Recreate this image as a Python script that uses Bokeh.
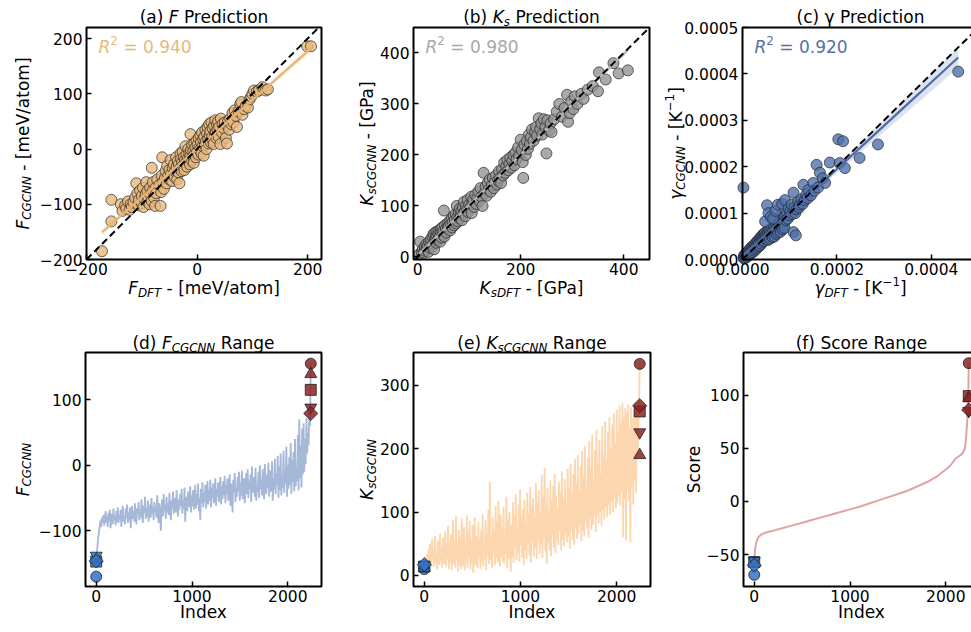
import glob
import math
import numpy as np
from bokeh.plotting import figure
from bokeh.models import Label, FixedTicker, Range1d
from bokeh.layouts import row, column
from bokeh.embed import file_html
from bokeh.resources import INLINE

# ---------------- data ----------------
# (a) F: DFT vs CGCNN  [meV/atom]
F_pairs = [
    (-172, -185), (-155, -131), (-155, -92), (-138, -100), (-135, -112), (-130, -102), (-128, -108),
    (-125, -95), (-122, -110), (-120, -100), (-118, -105), (-115, -97),
    (-112, -88), (-110, -62), (-108, -80), (-106, -102), (-105, -92), (-103, -75), (-100, -98),
    (-100, -85), (-98, -70), (-97, -105), (-95, -90), (-93, -82), (-92, -60), (-90, -95), (-90, -76),
    (-88, -88), (-86, -100), (-85, -70), (-84, -82), (-82, -94), (-82, -34), (-80, -75), (-80, -60),
    (-78, -88), (-76, -103), (-75, -70), (-74, -80), (-72, -55), (-68, -65), (-66, -103), (-65, -78),
    (-64, -48), (-63, -15), (-62, -60), (-60, -72), (-58, -52), (-57, -40), (-55, -62), (-54, -30),
    (-52, -48), (-50, -55), (-50, -38), (-48, -20), (-47, -45), (-45, -58), (-44, -35), (-42, -28),
    (-41, -50), (-40, -40), (-38, -15), (-37, -32), (-36, -55), (-35, -22), (-34, -42), (-33, -28),
    (-32, -62), (-31, -35), (-30, -8),
    (-29, -18), (-28, -40), (-27, -25), (-26, -5), (-25, -30), (-24, -15), (-23, -38), (-22, -20),
    (-21, 5), (-20, -25), (-19, -10), (-18, -32), (-17, -18), (-16, 0), (-15, -22), (-14, -8),
    (-13, -28), (-12, 27), (-12, -12), (-11, -2), (-10, -20), (-9, 8), (-8, -14), (-7, -4), (-6, -25),
    (-5, 10), (-4, -8), (-3, 2), (-2, -15), (-1, 15), (0, -5), (1, 8),
    (2, -10), (3, 20), (4, 2), (5, -2), (6, 25), (7, 12), (8, -8), (9, 30), (10, 5), (11, 18),
    (12, -12), (13, 22), (14, 8), (15, 35), (16, 14), (17, 0), (18, 28), (19, 40), (20, 18), (21, 10),
    (22, 45), (23, 25), (24, 32), (25, 12), (26, 48), (27, 22), (28, 38), (29, 15), (30, 9), (31, 42),
    (32, 28), (33, 52), (34, 30), (35, 20), (36, 44), (37, 35), (38, 50), (39, 22), (40, 40), (42, 9),
    (43, 55), (45, 30), (46, 45), (48, 38), (50, 48), (52, 20), (54, 10), (55, 42),
    (56, 50), (58, 35), (60, 55), (62, 45), (64, 65), (66, 48), (68, 70), (70, 60), (72, 40), (75, 68),
    (78, 81), (80, 85), (82, 62), (85, 72), (88, 78), (92, 75), (95, 90), (98, 95), (100, 100),
    (103, 106), (108, 104), (112, 106), (118, 112), (124, 106), (128, 108),
    (199, 186), (206, 186),
]
F_DFT = [p[0] for p in F_pairs]
F_CGCNN = [p[1] for p in F_pairs]

# (b) Ks: DFT vs CGCNN [GPa]
K_pairs = [
    (3, 5), (5, 30), (8, 10), (10, 15), (12, 8), (14, 20), (15, 12), (17, 25), (18, 15), (20, 22),
    (21, 10), (22, 30), (24, 18), (25, 28), (26, 35), (28, 20), (29, 40), (30, 26), (31, 45), (32, 15),
    (33, 32), (34, 48), (35, 38), (36, 28), (37, 42), (38, 50), (39, 33), (40, 45), (41, 36), (42, 52),
    (43, 40), (44, 30), (45, 55), (46, 47), (47, 38), (48, 58), (49, 44), (50, 50), (51, 91), (52, 40),
    (53, 62), (55, 55), (56, 48), (58, 66), (59, 56), (60, 60), (62, 70), (63, 52), (64, 64), (66, 75),
    (67, 58), (68, 68), (70, 80), (71, 62), (72, 72), (74, 85), (75, 66), (76, 100), (77, 78), (78, 70),
    (80, 88), (81, 76), (82, 95), (84, 82), (85, 90), (86, 72), (88, 98), (89, 85), (90, 108), (92, 90),
    (93, 80), (94, 100), (96, 92), (97, 112), (98, 88), (100, 102), (102, 96), (104, 118), (105, 86),
    (106, 104), (108, 112), (110, 98),
    (112, 122), (114, 104), (116, 115), (118, 128), (120, 110), (122, 135), (124, 118), (126, 100),
    (128, 165), (130, 125), (132, 138), (134, 120), (136, 145), (138, 132), (140, 152), (142, 128),
    (144, 140), (146, 155), (148, 135), (150, 148), (152, 160), (154, 142), (156, 150), (158, 168),
    (160, 155), (162, 145), (164, 172), (166, 160), (168, 185), (170, 165),
    (172, 178), (174, 190), (176, 170), (178, 182), (180, 195), (182, 175), (184, 188), (186, 200),
    (188, 180), (190, 205), (192, 192), (195, 215), (197, 198), (200, 230), (202, 210), (204, 186),
    (205, 155), (207, 220), (210, 200), (212, 228), (214, 212), (216, 240), (218, 222), (220, 235),
    (222, 250), (225, 228), (228, 245), (230, 255), (232, 238), (235, 272), (238, 250), (240, 262),
    (242, 240), (245, 270), (248, 255), (250, 203), (252, 268), (255, 248), (258, 262), (260, 245),
    (265, 270), (270, 285), (275, 300), (280, 275), (285, 292), (290, 318), (292, 265), (295, 282),
    (298, 305), (302, 290), (305, 315), (310, 300), (318, 320), (322, 310), (330, 328), (340, 335),
    (350, 325), (352, 362), (365, 348), (380, 380), (390, 360), (408, 366),
]
K_DFT = [p[0] for p in K_pairs]
K_CGCNN = [p[1] for p in K_pairs]

# (c) gamma: DFT vs CGCNN, listed in 1e-6 K^-1
G_pairs = [
    (2, 155), (2, 3), (3, 8), (4, 2), (5, 6), (6, 12), (7, 4), (8, 10), (9, 15), (10, 6), (11, 12),
    (12, 18), (13, 9), (14, 15), (15, 22), (16, 11), (17, 18), (18, 25), (19, 14), (20, 20), (21, 28),
    (22, 16), (23, 24), (24, 30), (25, 19), (26, 27), (27, 34), (28, 22), (29, 30), (30, 38), (31, 25),
    (32, 33), (33, 40), (34, 28), (35, 36), (36, 45), (37, 30), (38, 40), (39, 48), (40, 34), (41, 44),
    (42, 52), (43, 38), (44, 47), (45, 55), (46, 40), (47, 50), (48, 58), (49, 44), (50, 54), (52, 48),
    (53, 60), (54, 42), (55, 57), (56, 50), (57, 64), (58, 45), (59, 60), (60, 52), (62, 68), (63, 55),
    (64, 48), (65, 62), (66, 72), (67, 58), (68, 50), (69, 66), (70, 60), (71, 78), (72, 55), (73, 68),
    (74, 62), (75, 80), (76, 58), (77, 72), (78, 92), (79, 66), (80, 76), (81, 60), (82, 85), (83, 70),
    (84, 78), (85, 65), (86, 90), (87, 75), (88, 82), (89, 68), (90, 95), (92, 85),
    (48, 82), (52, 117), (55, 100), (60, 92), (65, 88), (70, 105), (75, 118), (84, 120), (90, 128),
    (94, 100), (96, 88), (98, 110), (100, 95), (102, 105), (104, 118), (106, 98), (108, 59), (108, 144),
    (110, 112), (112, 100), (113, 52), (115, 108), (118, 125), (120, 112), (122, 118), (125, 130),
    (128, 120), (129, 161), (132, 128), (135, 140), (138, 132), (140, 150), (145, 138), (150, 165),
    (152, 148), (157, 204), (160, 155), (164, 187), (170, 175), (175, 165), (185, 209), (203, 259),
    (206, 208), (213, 255), (217, 197), (248, 219), (287, 248), (457, 405),
]
G_UNIT = 1e-6
G_DFT = [p[0] * G_UNIT for p in G_pairs]
G_CGCNN = [p[1] * G_UNIT for p in G_pairs]

R2_values = ["0.940", "0.980", "0.920"]

# (d)-(f) sorted range lines (evenly spaced samples over the material index)
N_MATERIALS = 2241
F_line = [
    -140, -132, -120, -108, -100, -92, -84, -94, -80, -88,
    -76, -92, -82, -70, -88, -78, -94, -72, -85, -68,
    -96, -80, -74, -90, -66, -84, -78, -92, -70, -86,
    -64, -88, -76, -82, -68, -94, -74, -62, -86, -78,
    -90, -66, -80, -60, -88, -72, -84, -64, -96, -76,
    -62, -82, -70, -86, -58, -78, -90, -66, -74, -56,
    -84, -68, -80, -52, -76, -88, -62, -72, -48, -82,
    -66, -78, -54, -86, -70, -60, -80, -50, -74, -64,
    -84, -56, -72, -62, -80, -46, -70, -88, -58, -76,
    -100, -64, -52, -78, -44, -70, -60, -82, -48, -72,
    -58, -76, -42, -68, -84, -54, -66, -40, -74, -60,
    -50, -72, -38, -64, -78, -52, -68, -44, -62, -36,
    -74, -54, -66, -34, -86, -60, -48, -70, -40, -64,
    -56, -32, -72, -46, -62, -38, -68, -52, -30, -66,
    -44, -60, -28, -70, -50, -84, -36, -58, -26, -64,
    -42, -56, -30, -66, -46, -24, -60, -38, -54, -22,
    -64, -34, -50, -28, -58, -42, -20, -62, -36, -48,
    -26, -56, -40, -18, -60, -32, -52, -24, -46, -16,
    -58, -30, -44, -20, -54, -36, -14, -62, -28, -50,
    -72, -22, -42, -12, -56, -34, -48, -18, -40, -10,
    -54, -26, -46, -8, -52, -30, -20, -58, -38, -12,
    -44, -6, -50, -24, -36, -14, -56, -2, -42, -28,
    -18, -48, -4, -54, -32, -40, -10, -50, 0, -36,
    -22, -46, -6, -38, -52, 2, -30, -44, -14, -34,
    4, -48, -26, -8, -40, 6, -54, -20, -36, 10,
    -44, -12, -30, 14, -50, -2, -38, 18, -46, -16,
    -34, 22, -42, -6, -28, 28, -48, 0, -36, 12,
    -30, 34, -44, 8, -26, 20, -40, 40, -32, -4,
    -24, 46, -38, 70, -20, 30, -34, 56, -14, 64,
    -10, 40, 2, 72, 18, 50, 30, 80, 60, 155,
]
K_line = [
    15, 20, 28, 18, 35, 24, 42, 16, 50, 22,
    12, 58, 26, 40, 14, 62, 20, 34, 10, 55,
    30, 16, 66, 22, 44, 12, 60, 28, 18, 70,
    14, 48, 26, 78, 10, 52, 20, 64, 8, 40,
    88, 18, 56, 12, 94, 24, 46, 6, 72, 16,
    60, 10, 90, 30, 14, 76, 8, 50, 22, 95,
    12, 66, 28, 86, 10, 54, 18, 80, 4, 44,
    92, 16, 62, 24, 12, 84, 30, 56, 10, 72,
    20, 96, 14, 50, 26, 88, 8, 66, 32, 104,
    18, 148, 24, 60, 12, 92, 36, 70, 16, 110,
    28, 84, 20, 118, 40, 14, 96, 30, 74, 22,
    108, 18, 64, 34, 124, 12, 88, 26, 100, 42,
    6, 80, 30, 116, 20, 94, 44, 128, 24, 70,
    36, 112, 22, 136, 48, 90, 28, 104, 16, 120,
    40, 82, 26, 130, 50, 98, 32, 140, 20, 108,
    54, 122, 30, 92, 44, 146, 26, 114, 58, 134,
    34, 100, 48, 158, 28, 124, 60, 170, 38, 110,
    18, 138, 52, 96, 40, 150, 30, 118, 64, 142,
    44, 160, 36, 126, 58, 104, 48, 148, 70, 132,
    40, 164, 56, 120, 46, 152, 66, 110, 52, 168,
    62, 138, 42, 176, 72, 128, 56, 160, 48, 184,
    76, 146, 58, 190, 66, 134, 80, 172, 54, 196,
    70, 156, 62, 204, 86, 140, 74, 186, 60, 212,
    90, 168, 72, 222, 80, 150, 94, 198, 68, 230,
    96, 176, 82, 214, 100, 160, 78, 236, 104, 190,
    88, 244, 108, 182, 92, 226, 112, 250, 96, 200,
    118, 238, 100, 256, 124, 210, 106, 262, 114, 228,
    126, 268, 110, 240, 132, 272, 60, 250, 120, 264,
    55, 258, 136, 270, 118, 232, 52, 266, 140, 248,
    112, 262, 150, 274, 130, 256, 190, 226, 268, 334,
]
S_index = [0, 5, 10, 20, 35, 50, 75, 100, 150, 200, 300, 400, 500, 600, 700, 800, 900, 1000,
           1100, 1200, 1300, 1400, 1500, 1600, 1700, 1800, 1900, 1950, 2000, 2050, 2100, 2130,
           2160, 2180, 2200, 2210, 2220, 2230, 2235, 2240]
S_line = [-55, -50, -44, -39, -35, -33, -31, -30, -28.5, -27.5, -25, -22.5, -20, -17.5, -15, -12.5,
          -10, -7.5, -5, -2, 1, 4, 7, 10, 14, 18, 23, 26.5, 30, 34, 40, 42, 44, 46, 50, 58, 70, 85,
          99, 130]

MARKERS = ["circle", "square", "triangle", "inverted_triangle", "diamond"]
F_low = [-170, -147, -143, -138, -146]
F_high = [155, 115, 139, 88, 79]
K_low = [10, 14, 12, 16, 17]
K_high = [334, 259, 190, 226, 268]
S_low = [-69, -57, -58, -56, -60]
S_high = [130, 99, 97, 85, 86]

# axis limits of each panel
LIM = {
    "a": ((-200, 225), (-200, 220)),
    "b": ((-8, 450), (-5, 450)),
    "c": ((0, 0.0005), (0, 0.0005)),
    "d": ((-112, 2352), (-185, 172)),
    "e": ((-112, 2352), (-17.5, 352)),
    "f": ((-112, 2352), (-80, 140)),
}

# ---------------- text measuring ----------------
def _find(name):
    for base in ("/usr/share/fonts", "/usr/local/share/fonts"):
        hits = glob.glob(base + "/**/" + name, recursive=True)
        if hits:
            return hits[0]
    return None


_FONTS = {}
try:
    from PIL import ImageFont
    for key, nm in ((False, "DejaVuSans.ttf"), (True, "DejaVuSans-Oblique.ttf")):
        path = _find(nm)
        if path:
            _FONTS[key] = ImageFont.truetype(path, 100)
except Exception:
    _FONTS = {}


def tw(s, size, italic=False):
    f = _FONTS.get(italic) or _FONTS.get(False)
    if f is not None:
        return f.getlength(s) * size / 100.0
    return len(s) * size * 0.6


# ---------------- layout geometry (page px) ----------------
SLOT = {  # figure origin and size on the page
    "a": (0, 0, 330, 320), "b": (330, 0, 330, 320), "c": (660, 0, 311, 320),
    "d": (0, 320, 330, 312), "e": (330, 320, 330, 312), "f": (660, 320, 311, 312),
}
BOX = {  # axes box on the page: left, top, width, height
    "a": (86, 27, 235, 232), "b": (413, 27, 236, 232), "c": (742, 27, 236, 232),
    "d": (85, 352, 236, 234), "e": (413, 352, 237, 234), "f": (743, 352, 236, 234),
}
FONT = "DejaVu Sans"
TXT = 17
TICK = "15.5px"
BASE_FIX = 0.2  # raise text (in em) so that the glyph baseline sits on the anchor


def to_data(key, px, py):
    (x0, x1), (y0, y1) = LIM[key]
    L, T, W, H = BOX[key]
    return (x0 + (px - L) / W * (x1 - x0), y1 - (py - T) / H * (y1 - y0))


def rich(p, key, segs, px, py, size=TXT, color="black", align="center", angle=0.0):
    widths = [tw(s, size * rs, it) for (s, it, rs, sh) in segs]
    total = sum(widths)
    pen = -total / 2 if align == "center" else 0.0
    for (s, it, rs, sh), w in zip(segs, widths):
        stripped = s.lstrip(" ")
        lead = tw(" " * (len(s) - len(stripped)), size * rs, it)
        off = pen + lead
        up = sh * size + BASE_FIX * size * rs
        if angle == 0:
            sx, sy = px + off, py - up
        else:
            sx, sy = px - up, py - off
        x, y = to_data(key, sx, sy)
        p.add_layout(Label(x=x, y=y, text=stripped, text_font=FONT,
                           text_font_size="%.2fpx" % (size * rs),
                           text_font_style="italic" if it else "normal",
                           text_color=color, text_align="left",
                           text_baseline="alphabetic", angle=angle))
        pen += w


def fmt_int(v):
    return ("%d" % round(v)).replace("-", "\u2212")


def fmt_g(v):
    return "%.4f" % v


def make_fig(key, xticks, yticks, xfmt=fmt_int, yfmt=fmt_int):
    ox, oy, FW, FH = SLOT[key]
    L, T, W, H = BOX[key]
    (x0, x1), (y0, y1) = LIM[key]
    dpx = (x1 - x0) / W
    dpy = (y1 - y0) / H
    xr = (x0 - (L - ox) * dpx, x0 + (ox + FW - L) * dpx)
    yr = (y1 - (oy + FH - T) * dpy, y1 + (T - oy) * dpy)
    p = figure(width=FW, height=FH, x_range=Range1d(*xr), y_range=Range1d(*yr),
               min_border_left=0, min_border_right=0, min_border_top=0, min_border_bottom=0,
               output_backend="svg", toolbar_location=None)
    p.xaxis.fixed_location = y0
    p.yaxis.fixed_location = x0
    p.xaxis.ticker = FixedTicker(ticks=xticks)
    p.yaxis.ticker = FixedTicker(ticks=yticks)
    p.xaxis.major_label_overrides = {t: xfmt(t) for t in xticks}
    p.yaxis.major_label_overrides = {t: yfmt(t) for t in yticks}
    for ax in (p.xaxis[0], p.yaxis[0]):
        ax.axis_line_color = None
        ax.major_tick_in = 5
        ax.major_tick_out = 0
        ax.major_tick_line_width = 1.5
        ax.major_tick_line_color = "black"
        ax.minor_tick_line_color = None
        ax.major_label_text_font = FONT
        ax.major_label_text_font_size = TICK
        ax.major_label_text_color = "black"
    p.xaxis.major_label_standoff = 3
    p.yaxis.major_label_standoff = 4
    p.grid.visible = False
    p.outline_line_color = None
    p.background_fill_color = "white"
    p.border_fill_color = "white"
    return p


def axes_box(p, key):
    (x0, x1), (y0, y1) = LIM[key]
    p.quad(left=[x0], right=[x1], bottom=[y0], top=[y1], fill_color=None,
           line_color="black", line_width=2)


def linfit(x, y):
    x = np.asarray(x, float)
    y = np.asarray(y, float)
    b, a = np.polyfit(x, y, 1)
    xs = np.linspace(x.min(), x.max(), 100)
    yhat = a + b * xs
    n = len(x)
    resid = y - (a + b * x)
    s = np.sqrt((resid ** 2).sum() / (n - 2))
    se = s * np.sqrt(1.0 / n + (xs - x.mean()) ** 2 / ((x - x.mean()) ** 2).sum())
    return xs, yhat, yhat - 1.96 * se, yhat + 1.96 * se


def sub(t):
    return (t, True, 0.7, -0.2)


def sup(t, it=False):
    return (t, it, 0.7, 0.42)


def N(t):
    return (t, False, 1.0, 0.0)


def I(t):
    return (t, True, 1.0, 0.0)


def scatter_panel(key, xs, ys, xt, yt, fill, line_c, text_c, r2, title, xlab, ylab,
                  ylab_x, fmt=fmt_int):
    p = make_fig(key, xt, yt, fmt, fmt)
    (x0, x1), (y0, y1) = LIM[key]
    p.scatter(xs, ys, size=11, fill_color=fill, fill_alpha=0.8,
              line_color="#262626", line_alpha=0.7, line_width=1)
    fx, fy, lo, hi = linfit(xs, ys)
    p.varea(x=fx, y1=lo, y2=hi, fill_color=line_c, fill_alpha=0.2)
    p.line(fx, fy, line_color=line_c, line_width=2.2)
    lim = [max(x0, y0), min(x1, y1)]
    p.line(lim, lim, line_color="black", line_width=2, line_dash="7 4")
    axes_box(p, key)
    L, T, W, H = BOX[key]
    cx, cy = L + W / 2, T + H / 2
    rich(p, key, title, cx, 20)
    rich(p, key, xlab, cx, 291)
    rich(p, key, ylab, ylab_x, cy, angle=math.pi / 2)
    rich(p, key, [I("R"), sup("2"), N(" = " + r2)], L + 12, T + 22.5, color=text_c, align="left")
    return p


pa = scatter_panel("a", F_DFT, F_CGCNN, [-200, 0, 200], [-200, -100, 0, 100, 200],
                   "#e8b87a", "#e6b478", "#e8b87c", R2_values[0],
                   [N("(a) "), I("F"), N(" Prediction")],
                   [I("F"), sub("DFT"), N(" - [meV/atom]")],
                   [I("F"), sub("CGCNN"), N(" - [meV/atom]")], 25.5)
pb = scatter_panel("b", K_DFT, K_CGCNN, [0, 200, 400], [0, 100, 200, 300, 400],
                   "#959595", "#b5b5b5", "#a8a8a8", R2_values[1],
                   [N("(b) "), I("K"), sub("s"), N(" Prediction")],
                   [I("K"), sub("sDFT"), N(" - [GPa]")],
                   [I("K"), sub("sCGCNN"), N(" - [GPa]")], 370)
pc = scatter_panel("c", G_DFT, G_CGCNN, [0, 0.0002, 0.0004],
                   [0, 0.0001, 0.0002, 0.0003, 0.0004, 0.0005], "#4f70ae", "#4e6ca8", "#5671a9",
                   R2_values[2],
                   [N("(c) \u03b3 Prediction")],
                   [I("\u03b3"), sub("DFT"), N(" - [K"), sup("\u22121"), N("]")],
                   [I("\u03b3"), sub("CGCNN"), N(" - [K"), sup("\u22121"), N("]")], 679, fmt=fmt_g)

LOW_FILL, HIGH_FILL = "#3272c2", "#8a2424"


def range_panel(key, idx, vals, yt, color, lw, low, high, title, ylab, ylab_x):
    p = make_fig(key, [0, 1000, 2000], yt)
    p.line(idx, vals, line_color=color, line_width=lw)
    for xpos, vv, fill in ((0, low, LOW_FILL), (N_MATERIALS - 1, high, HIGH_FILL)):
        for m, v in zip(MARKERS, vv):
            if m == "diamond":
                p.scatter([xpos], [v], marker="square", angle=math.pi / 4, size=10,
                          fill_color=fill, fill_alpha=0.85, line_color="#222222",
                          line_alpha=0.8, line_width=1)
            else:
                p.scatter([xpos], [v], marker=m, size=12 if "triangle" in m else 11,
                          fill_color=fill, fill_alpha=0.85, line_color="#222222",
                          line_alpha=0.8, line_width=1)
    axes_box(p, key)
    L, T, W, H = BOX[key]
    cx, cy = L + W / 2, T + H / 2
    rich(p, key, title, cx, 346)
    rich(p, key, [N("Index")], cx, 615)
    rich(p, key, ylab, ylab_x, cy, angle=math.pi / 2)
    return p


pd_ = range_panel("d", np.linspace(0, N_MATERIALS - 1, len(F_line)), F_line, [-100, 0, 100],
                  "#a5b8d7", 1.8, F_low, F_high,
                  [N("(d) "), I("F"), sub("CGCNN"), N(" Range")], [I("F"), sub("CGCNN")], 25.5)
pe = range_panel("e", np.linspace(0, N_MATERIALS - 1, len(K_line)), K_line, [0, 100, 200, 300],
                 "#fbd6ae", 1.8, K_low, K_high,
                 [N("(e) "), I("K"), sub("sCGCNN"), N(" Range")], [I("K"), sub("sCGCNN")], 370)
pf = range_panel("f", S_index, S_line, [-50, 0, 50, 100], "#e3a3a5", 2.0, S_low, S_high,
                 [N("(f) Score Range")], [N("Score")], 697)

layout = column(row(pa, pb, pc, spacing=0), row(pd_, pe, pf, spacing=0), spacing=0)
open("out.html", "w").write(file_html(layout, INLINE))
